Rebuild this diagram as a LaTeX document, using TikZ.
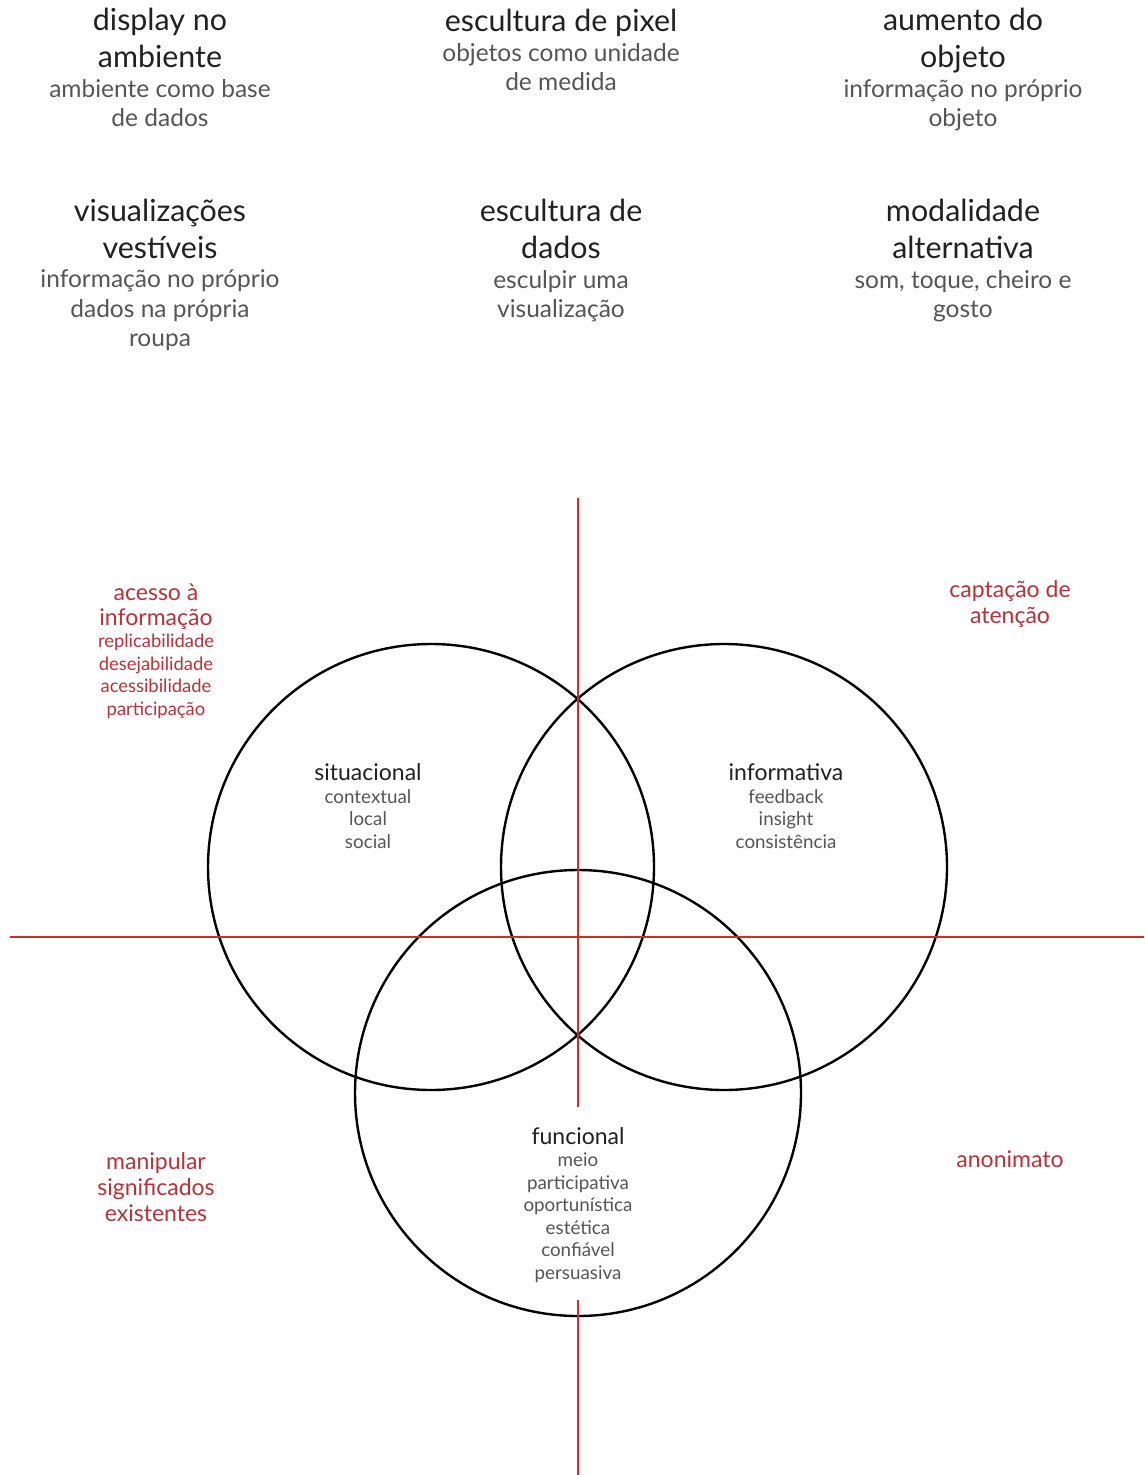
\documentclass[tikz,border=0pt]{standalone}
\usepackage{fontspec}
\setmainfont{Lato}
\definecolor{axisred}{RGB}{205,45,45}
\definecolor{labelred}{RGB}{185,50,55}
\definecolor{ink}{RGB}{33,33,33}
\definecolor{soft}{RGB}{85,85,85}
\newcommand\ttl{\fontsize{15.2}{18.5}\selectfont\color{ink}}
\newcommand\cirttl{\fontsize{11.5}{13}\selectfont\color{ink}}
\newcommand\redbig{\fontsize{11.5}{13}\selectfont}
\begin{document}
\begin{tikzpicture}[x=0.5pt,y=-0.5pt,
  ring/.style={circle,draw=black,line width=1.2pt,minimum size=223pt,inner sep=0pt},
  axis/.style={draw=axisred,line width=1pt},
  kind/.style={align=center,anchor=base,inner sep=0pt,text=soft,font=\fontsize{12.25}{14.75}\selectfont},
  goal/.style={align=center,anchor=base,inner sep=0pt,text=labelred,font=\fontsize{11.5}{13}\selectfont},
  goalsub/.style={goal,font=\fontsize{9.2}{11.25}\selectfont},
  role/.style={align=center,anchor=base,inner sep=0pt,text=soft,font=\fontsize{9.4}{11.25}\selectfont}]
\fill[white] (0,0) rectangle (1144,1475);
\useasboundingbox (0,0) rectangle (1144,1475);

% Kinds of physical visualization (placed at the baseline of the last line)
\node[kind] (amb) at (160,127) {{\ttl display no}\\[3.75pt]{\ttl ambiente}\\ambiente como base\\de dados};
\node[kind] (pix) at (561,91) {{\ttl escultura de pixel}\\objetos como unidade\\de medida};
\node[kind] (obj) at (963,127) {{\ttl aumento do}\\[3.75pt]{\ttl objeto}\\informação no próprio\\objeto};
\node[kind] (vest) at (160,347) {{\ttl visualizações}\\[3.75pt]{\ttl vestíveis}\\informação no próprio\\dados na própria\\roupa};
\node[kind] (esc) at (561,318) {{\ttl escultura de}\\[3.75pt]{\ttl dados}\\esculpir uma\\visualização};
\node[kind] (mod) at (963,318) {{\ttl modalidade}\\[3.75pt]{\ttl alternativa}\\som, toque, cheiro e\\gosto};

% Circles
\node[ring] (sit) at (431,867) {};
\node[ring] (inf) at (724,867) {};
\node[ring] (fun) at (578,1093) {};

% Axes
\coordinate (vtop) at (578,498);
\coordinate (vcut) at (578,1107);
\coordinate (vres) at (578,1300);
\coordinate (vbot) at (578,1475);
\coordinate (hleft) at (10,937);
\coordinate (hright) at (1144,937);
\draw[axis] (vtop) -- (vcut);
\draw[axis] (vres) -- (vbot);
\draw[axis] (hleft) -- (hright);

% Circle labels
\node[role] (sitlab) at (368,848) {{\cirttl situacional}\\contextual\\local\\social};
\node[role] (inflab) at (786,848) {{\cirttl informativa}\\feedback\\insight\\consistência};
\node[role] (funlab) at (578,1279) {{\cirttl funcional}\\meio\\participativa\\oportunística\\estética\\confiável\\persuasiva};

% Quadrant goals
\node[goalsub] (acc) at (156,715) {{\redbig acesso à}\\[1.25pt]{\redbig informação}\\replicabilidade\\desejabilidade\\acessibilidade\\participação};
\node[goal] (att) at (1010,623) {captação de\\atenção};
\node[goal] (man) at (156,1221) {manipular\\significados\\existentes};
\node[goal] (ano) at (1010,1167) {anonimato};
\end{tikzpicture}
\end{document}
